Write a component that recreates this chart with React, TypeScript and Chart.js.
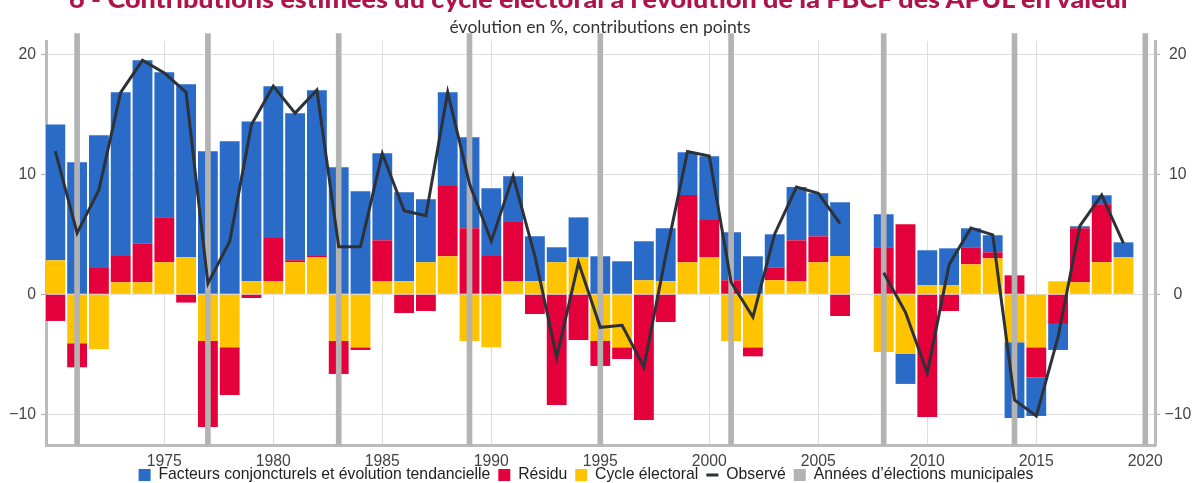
import React, { useEffect, useRef } from 'react';
import { Chart, registerables } from 'chart.js';

Chart.register(...registerables);

const years = [
  1970, 1971, 1972, 1973, 1974, 1975, 1976, 1977, 1978, 1979,
  1980, 1981, 1982, 1983, 1984, 1985, 1986, 1987, 1988, 1989,
  1990, 1991, 1992, 1993, 1994, 1995, 1996, 1997, 1998, 1999,
  2000, 2001, 2002, 2003, 2004, 2005, 2006, 2007, 2008, 2009,
  2010, 2011, 2012, 2013, 2014, 2015, 2016, 2017, 2018, 2019,
];

// Facteurs conjoncturels et évolution tendancielle
const facteurs = [
  11.33, 11.0, 11.06, 13.64, 15.25, 12.08, 14.42, 11.92, 12.75, 13.33,
  12.64, 12.25, 13.81, 10.58, 8.58, 7.25, 7.42, 5.25, 7.8, 7.58,
  5.64, 3.8, 3.75, 1.25, 3.33, 3.17, 2.75, 3.25, 4.42, 3.55,
  5.31, 4.0, 3.17, 2.75, 4.44, 3.59, 4.48, null, 2.75, -2.5,
  2.92, 3.08, 1.58, 1.42, -6.31, -3.22, -2.17, 0.17, 0.75, 1.25,
];

// Résidu
const residu = [
  -2.22, -2.0, 2.19, 2.19, 3.25, 3.75, -0.69, -7.17, -3.97, -0.31,
  3.61, 0.17, 0.11, -2.75, -0.22, 3.42, -1.56, -1.39, 5.86, 5.5,
  3.19, 4.95, -1.64, -9.22, -3.81, -2.08, -0.97, -10.47, -2.31, 5.61,
  3.11, 1.17, -0.75, 1.08, 3.42, 2.16, -1.81, null, 3.92, 5.83,
  -10.22, -1.39, 1.42, 0.5, 1.58, -2.5, -2.47, 4.5, 4.83, null,
];

// Cycle électoral
const cycle = [
  2.83, -4.08, -4.56, 1.0, 1.0, 2.67, 3.08, -3.89, -4.42, 1.08,
  1.08, 2.67, 3.08, -3.89, -4.42, 1.08, 1.08, 2.67, 3.17, -3.89,
  -4.42, 1.08, 1.08, 2.67, 3.08, -3.89, -4.42, 1.17, 1.08, 2.67,
  3.08, -3.89, -4.42, 1.17, 1.08, 2.67, 3.19, null, -4.81, -4.97,
  0.75, 0.75, 2.5, 3.0, -4.0, -4.42, 1.08, 1.0, 2.67, 3.08,
];

// Observé
const observe = [
  11.94, 5.1, 8.7, 16.83, 19.5, 18.45, 16.83, 0.9, 4.4, 14.15,
  17.35, 15.1, 17.03, 3.97, 3.97, 11.73, 6.97, 6.55, 16.85, 9.2,
  4.43, 9.85, 3.19, -5.25, 2.65, -2.75, -2.58, -6.06, 3.2, 11.9,
  11.52, 1.0, -1.9, 5.03, 8.94, 8.42, 5.88, null, 1.8, -1.5,
  -6.56, 2.47, 5.53, 4.95, -8.8, -10.14, -3.56, 5.7, 8.27, 4.25,
];

// Années d'élections municipales
const electionYears = [1971, 1977, 1983, 1989, 1995, 2001, 2008, 2014, 2020];
const electionHeight = 1.0186; // relative to full plot height

const yTicksStep = 10;
const xTicksStep = 5;
const firstXTick = 1975;

const TITLE = '6 - Contributions estimées du cycle électoral à l’évolution de la FBCF des APUL en valeur';
const SUBTITLE = 'évolution en %, contributions en points';

const W = 1192;
const H = 483;

const tickFont = { family: "'Liberation Sans', Arial, sans-serif", size: 15.75 };
const minus = (v: number) => (v < 0 ? '\u2212' + Math.abs(v) : String(v));

const legendShift = {
  id: 'legendShift',
  afterLayout(chart: any) {
    const lg = chart.legend;
    if (!lg) return;
    lg.left -= 10;
    lg.right -= 10;
    lg.top -= 16;
    lg.bottom -= 16;
  },
};

export default function App() {
  const ref = useRef<HTMLCanvasElement | null>(null);

  useEffect(() => {
    if (!ref.current) return;
    const toXY = (arr: (number | null)[]) => years.map((yr, i) => ({ x: yr, y: arr[i] }));

    const chart = new Chart(ref.current, {
      type: 'bar',
      plugins: [legendShift],
      data: {
        datasets: [
          {
            label: 'Facteurs conjoncturels et évolution tendancielle',
            data: toXY(facteurs) as any,
            backgroundColor: '#2a6bc8',
            borderWidth: 0,
            stack: 'main',
            yAxisID: 'y',
            barPercentage: 0.91,
            categoryPercentage: 1,
            order: 4,
            pointStyle: 'rect',
          } as any,
          {
            label: 'Résidu',
            data: toXY(residu) as any,
            backgroundColor: '#e4003b',
            borderWidth: 0,
            stack: 'main',
            yAxisID: 'y',
            barPercentage: 0.91,
            categoryPercentage: 1,
            order: 3,
            pointStyle: 'rect',
          } as any,
          {
            label: 'Cycle électoral',
            data: toXY(cycle) as any,
            backgroundColor: '#ffc300',
            borderWidth: 0,
            stack: 'main',
            yAxisID: 'y',
            barPercentage: 0.91,
            categoryPercentage: 1,
            order: 2,
            pointStyle: 'rect',
          } as any,
          {
            type: 'line',
            label: 'Observé',
            data: toXY(observe) as any,
            borderColor: '#2d3138',
            backgroundColor: '#2d3138',
            borderWidth: 3,
            pointRadius: 0,
            pointStyle: 'line',
            tension: 0,
            stack: 'obs',
            yAxisID: 'y',
            order: 0,
            spanGaps: false,
          } as any,
          {
            label: 'Années d’élections municipales',
            data: electionYears.map((yr) => ({ x: yr, y: electionHeight })) as any,
            backgroundColor: '#b3b3b3',
            borderWidth: 0,
            yAxisID: 'yE',
            barThickness: 5,
            grouped: false,
            clip: false,
            order: 1,
            pointStyle: 'rect',
          } as any,
        ],
      },
      options: {
        responsive: false,
        animation: false,
        events: [],
        layout: { padding: { top: 41, right: 0, bottom: -25.75, left: 0 } },
        plugins: {
          title: { display: false },
          tooltip: { enabled: false },
          legend: {
            position: 'bottom',
            labels: {
              usePointStyle: true,
              pointStyleWidth: 12,
              boxWidth: 12,
              boxHeight: 12,
              padding: 8,
              color: '#222',
              font: { family: "'Liberation Sans', Arial, sans-serif", size: 15.75 },
              sort: (a: any, b: any) => a.datasetIndex - b.datasetIndex,
            },
          },
        },
        scales: {
          x: {
            type: 'linear',
            position: 'bottom',
            offset: false,
            min: 1969.573,
            max: 2020.445,
            afterBuildTicks: (s: any) => {
              s.ticks = s.ticks.filter((t: any) => t.value >= firstXTick);
            },
            afterFit: (s: any) => {
              s.height = 30;
            },
            ticks: {
              stepSize: xTicksStep,
              includeBounds: false,
              autoSkip: false,
              maxRotation: 0,
              padding: 7,
              color: '#444',
              font: tickFont,
              callback: (v: any) => String(v),
            },
            grid: { color: '#dedede', drawTicks: false, offset: false },
            border: { color: '#bbbbbb', width: 3 },
          },
          y: {
            type: 'linear',
            position: 'left',
            stacked: true,
            min: -12.56,
            max: 21.11,
            afterFit: (s: any) => {
              s.width = 46;
            },
            ticks: {
              stepSize: yTicksStep,
              includeBounds: false,
              padding: 5,
              color: '#444',
              font: tickFont,
              callback: (v: any) => minus(v),
            },
            grid: { color: '#dedede', tickColor: '#aaaaaa', tickLength: 5 },
            border: { color: '#bbbbbb', width: 3 },
          },
          y2: {
            type: 'linear',
            position: 'right',
            min: -12.56,
            max: 21.11,
            afterFit: (s: any) => {
              s.width = 37;
            },
            ticks: {
              stepSize: yTicksStep,
              includeBounds: false,
              padding: 4.5,
              crossAlign: 'center',
              color: '#444',
              font: tickFont,
              callback: (v: any) => minus(v),
            },
            grid: { drawOnChartArea: false, tickColor: '#aaaaaa', tickLength: 5 },
            border: { color: '#bbbbbb', width: 3 },
          },
          yE: {
            type: 'linear',
            display: false,
            min: 0,
            max: 1,
          },
        },
      } as any,
    });
    return () => chart.destroy();
  }, []);

  return (
    <div style={{ position: 'fixed', left: 0, top: 0, width: W, height: H, background: '#fff', overflow: 'hidden' }}>
      <canvas ref={ref} width={W} height={H} style={{ position: 'absolute', left: 0, top: 0, width: W, height: H }} />
      <svg width={W} height={H} style={{ position: 'absolute', left: 0, top: 0, pointerEvents: 'none' }}>
        <text
          x={600}
          y={8}
          textAnchor="middle"
          fontFamily="Lato, 'Open Sans', sans-serif"
          fontWeight={900}
          fontSize={24}
          fill="#ae1446"
          textLength={1062}
          lengthAdjust="spacingAndGlyphs"
        >
          {TITLE}
        </text>
        <text
          x={600}
          y={32.5}
          textAnchor="middle"
          fontFamily="Lato, 'Open Sans', sans-serif"
          fontSize={18}
          fill="#333"
          textLength={301}
          lengthAdjust="spacingAndGlyphs"
        >
          {SUBTITLE}
        </text>
      </svg>
    </div>
  );
}
